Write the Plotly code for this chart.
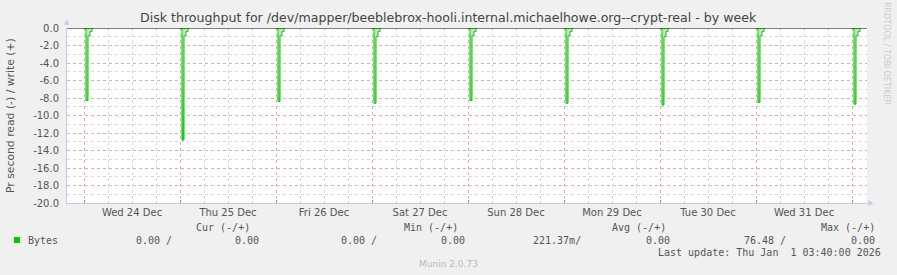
import plotly.graph_objects as go

# ---- data ----
spike_days = ["2025-12-24", "2025-12-25", "2025-12-26", "2025-12-27", "2025-12-28",
              "2025-12-29", "2025-12-30", "2025-12-31", "2026-01-01"]
read_peak = [-8.3, -12.8, -8.4, -8.6, -8.3, -8.6, -8.8, -8.5, -8.7]
read_tail1 = [-0.9, -0.9, -0.9, -1.0, -0.9, -0.9, -1.0, -0.9, -0.9]
read_tail2 = [-0.4, -0.4, -0.4, -0.4, -0.4, -0.4, -0.4, -0.4, -0.4]
step_times = ["00:00", "00:30", "01:00", "01:30", "02:00"]

x_range = ["2025-12-23 19:45", "2026-01-01 03:45"]
y_tickvals = [0, -2, -4, -6, -8, -10, -12, -14, -16, -18, -20]
y_ticktext = ["0.0", "-2.0", "-4.0", "-6.0", "-8.0", "-10.0", "-12.0", "-14.0",
              "-16.0", "-18.0", "-20.0"]

legend_cols = ["Cur (-/+)", "Min (-/+)", "Avg (-/+)", "Max (-/+)"]
legend_read = ["0.00 /", "0.00 /", "221.37m/", "76.48 /"]
legend_write = ["0.00", "0.00", "0.00", "0.00"]
series_name = "Bytes"
title_text = "Disk throughput for /dev/mapper/beeblebrox-hooli.internal.michaelhowe.org--crypt-real - by week"
last_update = "Last update: Thu Jan\u00a0 1 03:40:00 2026"

# ---- build read series ----
xs, ys = [], []
for d, p, t1, t2 in zip(spike_days, read_peak, read_tail1, read_tail2):
    vals = [0, p, t1, t2, 0]
    for t, v in zip(step_times, vals):
        xs.append(f"{d} {t}")
        ys.append(v)
    xs.append(None)
    ys.append(None)

W, H = 897, 275
L, R, T, B = 67, 867, 28, 203


def px(x):
    return (x - L) / (R - L)


def py(y):
    return (B - y) / (B - T)


fig = go.Figure()
fig.add_trace(go.Scatter(
    x=xs, y=ys, mode="lines", line=dict(color="#00cc00", width=1, shape="hv"),
    fill="tozeroy",
    fillgradient=dict(type="vertical",
                      colorscale=[[0, "#22cc22"], [0.5, "#88e488"], [1, "#b8f0b8"]]),
    connectgaps=False, showlegend=False, hoverinfo="skip"))
fig.add_trace(go.Scatter(
    x=x_range, y=[0, 0], mode="lines", line=dict(color="#000000", width=1),
    showlegend=False, hoverinfo="skip"))

mono = "DejaVu Sans Mono"
sans = "DejaVu Sans"
txt = "#555555"
ann = []
ann.append(dict(x=448, y=18, text=title_text, font=dict(family=sans, size=12.6, color="#444444")))
ann.append(dict(x=10, y=116, text="Pr second read (-) / write (+)", textangle=-90,
                font=dict(family=sans, size=10.8, color=txt)))
ann.append(dict(x=887, y=54, text="RRDTOOL / TOBI OETIKER", textangle=90,
                font=dict(family=sans, size=8, color="#cccccc")))
ann.append(dict(x=26, y=240, text=series_name, xanchor="left",
                font=dict(family=mono, size=10, color=txt)))
head_right = [252, 460, 668, 877]
read_right = [174, 379, 583, 788]
write_right = [261, 467, 672, 877]
for h, hr, r, rr, w, wr in zip(legend_cols, head_right, legend_read, read_right,
                               legend_write, write_right):
    ann.append(dict(x=hr, y=227, text=h, xanchor="right",
                    font=dict(family=mono, size=10, color=txt)))
    ann.append(dict(x=rr, y=240, text=r, xanchor="right",
                    font=dict(family=mono, size=10, color=txt)))
    ann.append(dict(x=wr, y=240, text=w, xanchor="right",
                    font=dict(family=mono, size=10, color=txt)))
ann.append(dict(x=883, y=252, text=last_update, xanchor="right",
                font=dict(family=mono, size=10, color=txt)))
ann.append(dict(x=448, y=264, text="Munin 2.0.73",
                font=dict(family=sans, size=9, color="#bbbbbb")))
# axis arrows
ann.append(dict(x=67, y=22, text="\u25b2", font=dict(family=sans, size=7, color="#c8c8f0")))
ann.append(dict(x=871, y=203, text="\u25b6", font=dict(family=sans, size=7, color="#c8c8f0")))

annotations = []
for a in ann:
    a = dict(a)
    a["x"] = px(a["x"])
    a["y"] = py(a["y"])
    a.setdefault("xanchor", "center")
    a.update(xref="paper", yref="paper", yanchor="middle", showarrow=False)
    annotations.append(a)

fig.update_layout(
    width=W, height=H,
    margin=dict(l=L, r=W - R, t=T, b=H - B, pad=0),
    paper_bgcolor="#f0f0f0", plot_bgcolor="#ffffff",
    annotations=annotations,
    shapes=[dict(type="rect", xref="paper", yref="paper",
                 x0=px(14), x1=px(20), y0=py(243), y1=py(237),
                 fillcolor="#00cc00", line=dict(width=0))],
    xaxis=dict(
        type="date", range=x_range,
        tick0="2025-12-24", dtick=86400000, ticklabelmode="period",
        tickformat="%a %d %b", ticks="inside", ticklen=3, tickcolor="#e08080",
        tickfont=dict(family=sans, size=10, color=txt),
        showgrid=True, gridcolor="#e6abab", griddash="dot", gridwidth=1,
        minor=dict(dtick=6 * 3600 * 1000, showgrid=True, gridcolor="#d8d8d8",
                   griddash="dot", ticks="inside", ticklen=2, tickcolor="#cccccc"),
        showline=True, linecolor="#c8c8e6", linewidth=1,
        zeroline=False, fixedrange=True,
    ),
    yaxis=dict(
        range=[-20, 0], tickvals=y_tickvals, ticktext=y_ticktext,
        tickfont=dict(family=sans, size=10, color=txt),
        ticks="", ticklabelstandoff=5,
        showgrid=True, gridcolor="#e6abab", griddash="dot", gridwidth=1,
        minor=dict(dtick=1, showgrid=True, gridcolor="#d8d8d8", griddash="dot"),
        showline=True, linecolor="#c8c8e6", linewidth=1,
        zeroline=False, fixedrange=True,
    ),
)

fig.write_html("out.html")
